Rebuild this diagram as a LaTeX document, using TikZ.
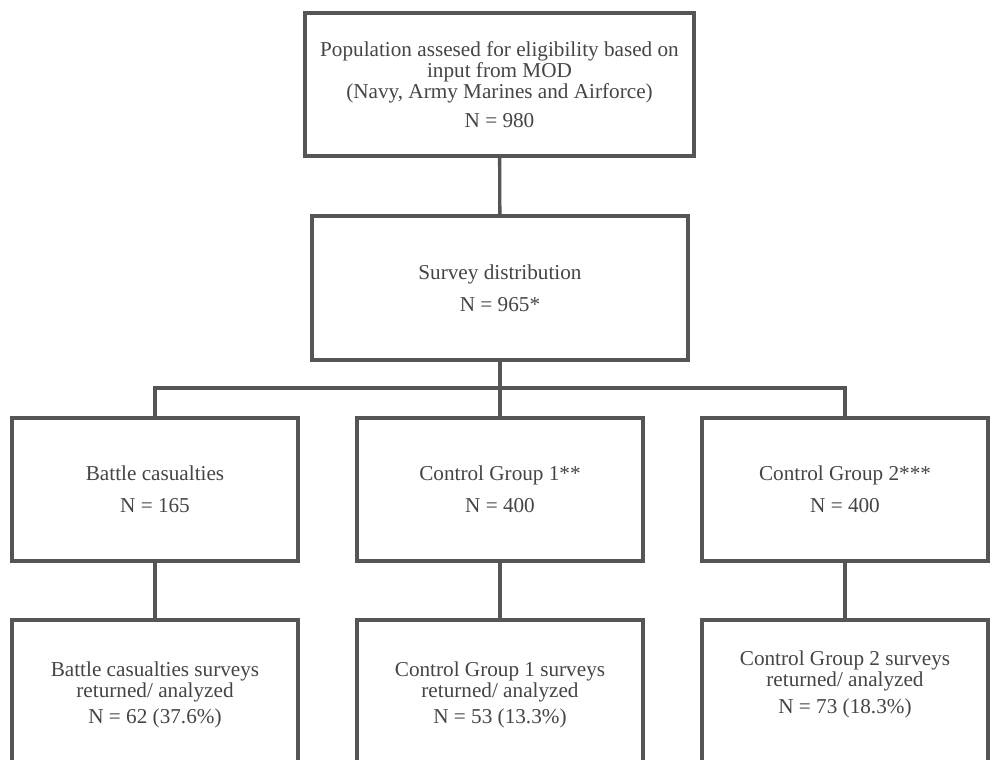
\documentclass[tikz,border=0pt]{standalone}
\usepackage{fontspec}
\setmainfont{Liberation Serif}
\definecolor{edgegray}{HTML}{555555}
\definecolor{inkgray}{HTML}{454545}

\begin{document}
\begin{tikzpicture}[x=0.5pt, y=-0.5pt,
    stage/.style={draw=edgegray, line width=1.8pt, rectangle, align=center,
        text=inkgray, inner sep=0pt, font=\fontsize{10.6}{10.6}\selectfont},
    group/.style={stage, minimum width=143pt, minimum height=71.5pt},
    result/.style={stage, minimum width=143pt, minimum height=75pt},
    link/.style={draw=edgegray, line width=1.7pt}]
    \useasboundingbox[fill=white] (0,0) rectangle (993,760);

    \node (pop) [stage, minimum width=194.5pt, minimum height=71.5pt] at (499.5, 84.5)
        {Population assesed for eligibility based on\\ input from MOD\\
         (Navy, Army Marines and Airforce)\\[3.5pt] N = 980};
    \node (survey) [stage, minimum width=188pt, minimum height=72pt] at (500, 288)
        {Survey distribution\\[5.5pt] N = 965*};

    \node (battle) [group] at (155, 489.5) {Battle casualties\\[5.5pt] N = 165};
    \node (ctrlA) [group] at (500, 489.5) {Control Group 1**\\[5.5pt] N = 400};
    \node (ctrlB) [group] at (845, 489.5) {Control Group 2***\\[5.5pt] N = 400};

    \node (battleret) [result] at (155, 695)
        {Battle casualties surveys\\ returned/ analyzed\\[2.5pt] N = 62 (37.6\%)};
    \node (ctrlAret) [result] at (500, 695)
        {Control Group 1 surveys\\ returned/ analyzed\\[2.5pt] N = 53 (13.3\%)};
    \node (ctrlBret) [result, text depth=13pt] at (845, 695)
        {Control Group 2 surveys\\ returned/ analyzed\\[2.5pt] N = 73 (18.3\%)};

    \coordinate (split) at (500, 388);

    \draw[link] (pop) -- (survey);
    \draw[link, line width=2pt] (survey) -- (ctrlA);
    \draw[link] (battle.north) |- (split) -| (ctrlB.north);
    \draw[link] (battle) -- (battleret);
    \draw[link] (ctrlA) -- (ctrlAret);
    \draw[link] (ctrlB) -- (ctrlBret);
\end{tikzpicture}
\end{document}
